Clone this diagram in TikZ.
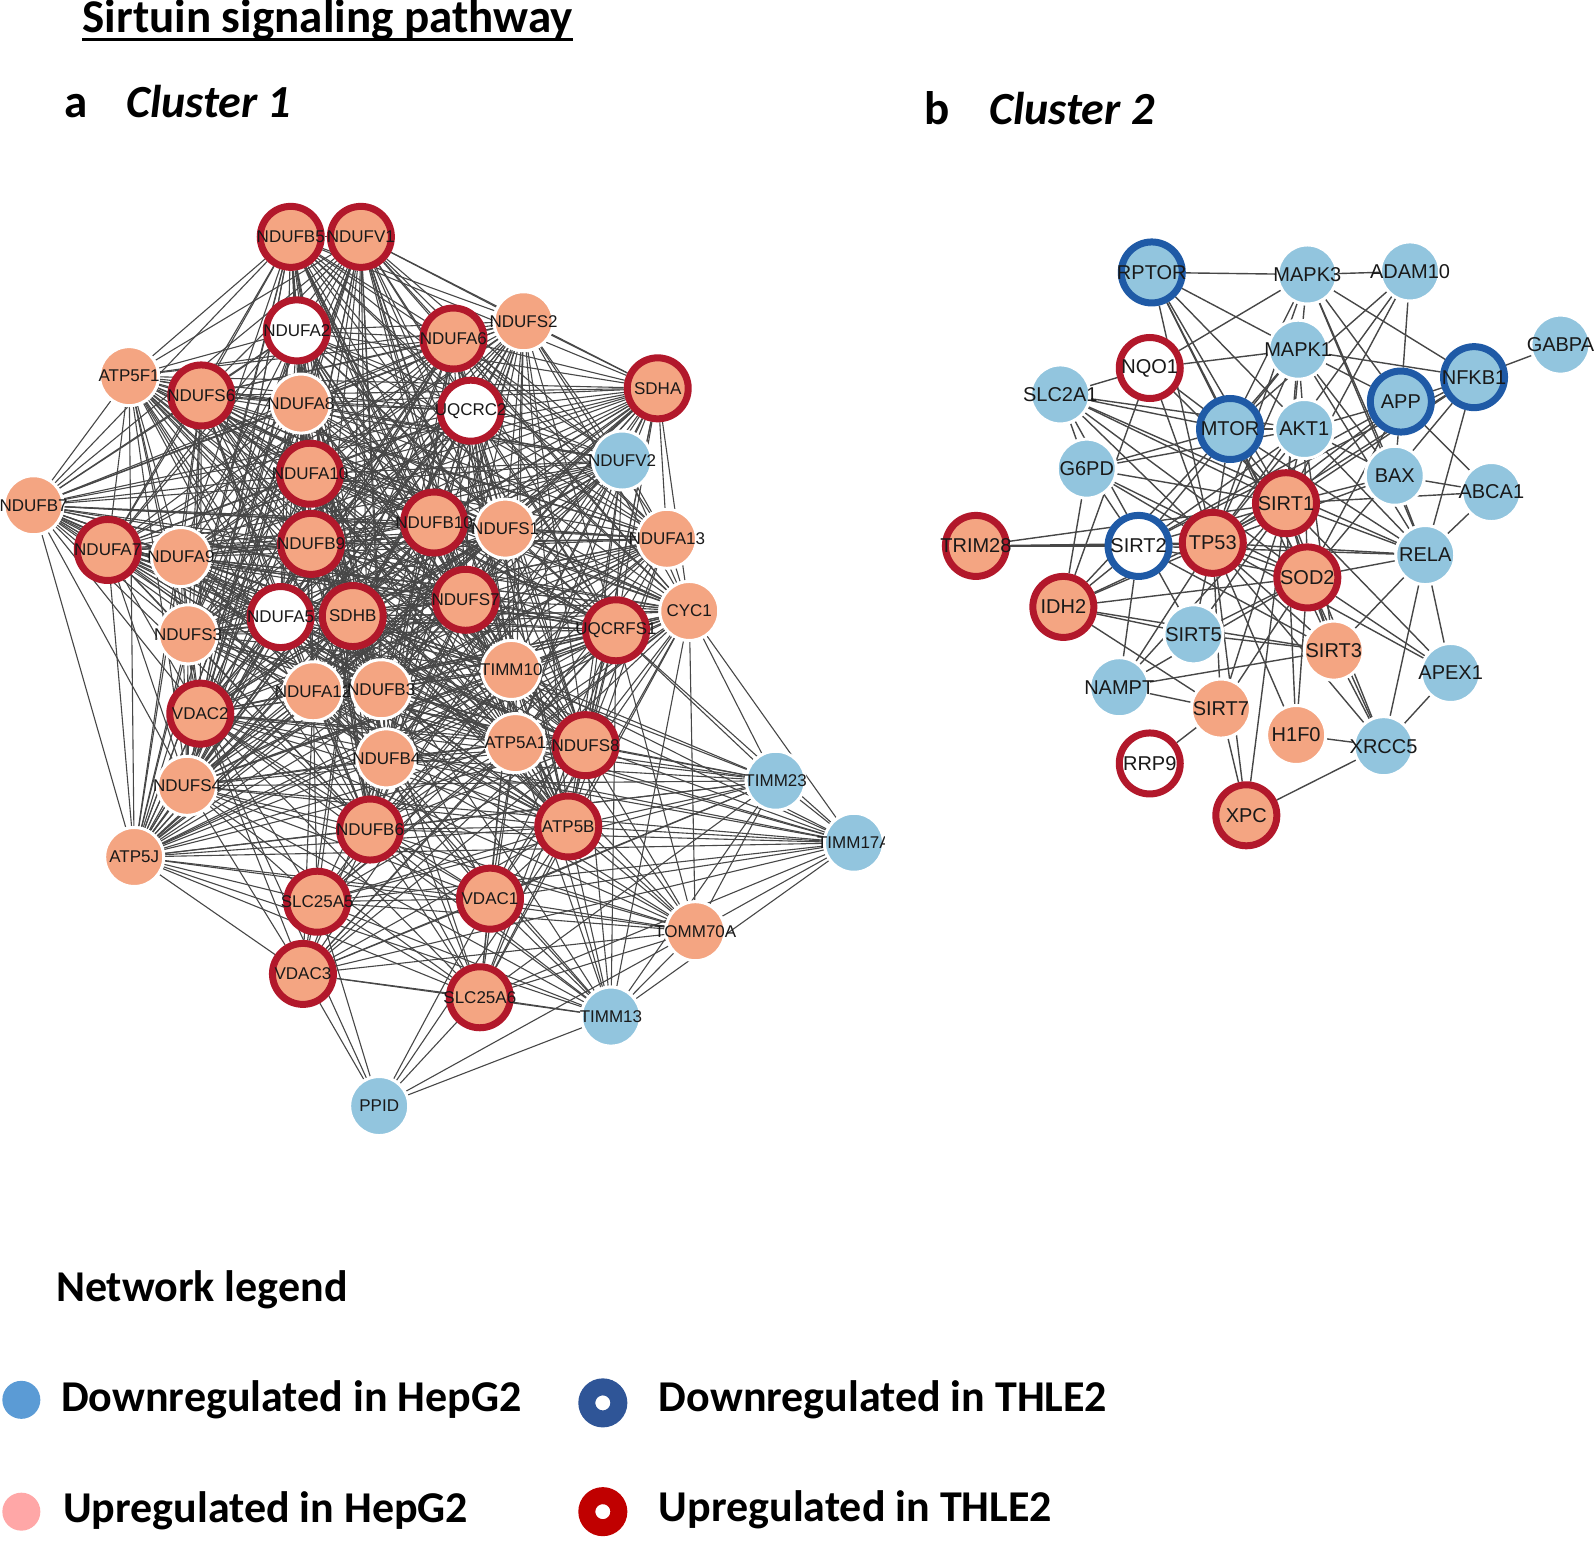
\documentclass[tikz,border=0pt]{standalone}
\usepackage{fontspec}
\setmainfont{Carlito}
\newfontfamily\genefont{Liberation Sans}
\usepackage{xcolor}
\usetikzlibrary{backgrounds}
\definecolor{salmon}{HTML}{F4A582}
\definecolor{skyblue}{HTML}{92C5DE}
\definecolor{ringred}{HTML}{B2182B}
\definecolor{ringblue}{HTML}{1F5AA6}
\definecolor{legblue}{HTML}{5B9BD5}
\definecolor{legdark}{HTML}{2F5597}
\definecolor{legpink}{HTML}{FFA7A7}
\definecolor{legred}{HTML}{C00000}
\newcommand{\lbl}[1]{\makebox[0pt][c]{#1}}
\tikzset{
  gene/.style={circle, inner sep=0pt, text=black!90},
  onegene/.style={gene, font=\genefont\fontsize{17}{17}\selectfont},
  twogene/.style={gene, font=\genefont\fontsize{20}{20}\selectfont},
  % plain nodes with a white halo, ring nodes with a thick coloured border
  plain/.style={draw=white, line width=3pt, minimum size=59pt, fill=#1},
  ring/.style={draw=#1, line width=7pt, minimum size=61pt},
  edge/.style={draw=black!72, line width=1.1pt},
  edgetwo/.style={draw=black!72, line width=1.4pt},
  heading/.style={font=\bfseries\fontsize{47}{50}\selectfont, anchor=base west, inner sep=0pt},
  legtext/.style={font=\bfseries\fontsize{44}{50}\selectfont, anchor=base west, inner sep=0pt},
}
\begin{document}
\begin{tikzpicture}[x=1.0166pt, y=-1.0166pt]
  \useasboundingbox (0,0) rectangle (1568,1517);

  % headings
  \node[heading] (title) at (81,32) {Sirtuin signaling pathway};
  \draw[line width=2.6pt] ([yshift=-7pt]title.base west) -- ([yshift=-7pt]title.base east);
  \node[heading] (pa) at (63,116) {a};
  \node[heading, font=\bfseries\itshape\fontsize{46}{50}\selectfont] (cl1) at (124,116) {Cluster 1};
  \node[heading] (pb) at (909,122) {b};
  \node[heading, font=\bfseries\itshape\fontsize{46}{50}\selectfont] (cl2) at (973,122) {Cluster 2};

  % cluster 1
  \begin{scope}
    \clip (0,150) rectangle (870,1140);
    \node[onegene, ring=ringred, fill=salmon] (NDUFB5) at (286,233) {\lbl{NDUFB5}};
    \node[onegene, ring=ringred, fill=salmon] (NDUFV1) at (355,233) {\lbl{NDUFV1}};
    \node[onegene, ring=ringred, fill=white] (NDUFA2) at (292,325) {\lbl{NDUFA2}};
    \node[onegene, ring=ringred, fill=salmon] (NDUFA6) at (446,333) {\lbl{NDUFA6}};
    \node[onegene, plain=salmon] (NDUFS2) at (515,316) {\lbl{NDUFS2}};
    \node[onegene, plain=salmon] (ATP5F1) at (127,370) {\lbl{ATP5F1}};
    \node[onegene, ring=ringred, fill=salmon] (NDUFS6) at (198,389) {\lbl{NDUFS6}};
    \node[onegene, plain=salmon] (NDUFA8) at (296,397) {\lbl{NDUFA8}};
    \node[onegene, ring=ringred, fill=white] (UQCRC2) at (463,404) {\lbl{UQCRC2}};
    \node[onegene, ring=ringred, fill=salmon] (SDHA) at (647,382) {\lbl{SDHA}};
    \node[onegene, plain=skyblue] (NDUFV2) at (612,453) {\lbl{NDUFV2}};
    \node[onegene, ring=ringred, fill=salmon] (NDUFA10) at (305,466) {\lbl{NDUFA10}};
    \node[onegene, plain=salmon] (NDUFB7) at (33,497) {\lbl{NDUFB7}};
    \node[onegene, ring=ringred, fill=salmon] (NDUFB10) at (427,514) {\lbl{NDUFB10}};
    \node[onegene, plain=salmon] (NDUFS1) at (497,520) {\lbl{NDUFS1}};
    \node[onegene, plain=salmon] (NDUFA13) at (656,530) {\lbl{NDUFA13}};
    \node[onegene, ring=ringred, fill=salmon] (NDUFA7) at (106,541) {\lbl{NDUFA7}};
    \node[onegene, plain=salmon] (NDUFA9) at (178,548) {\lbl{NDUFA9}};
    \node[onegene, ring=ringred, fill=salmon] (NDUFB9) at (306,535) {\lbl{NDUFB9}};
    \node[onegene, ring=ringred, fill=salmon] (NDUFS7) at (458,590) {\lbl{NDUFS7}};
    \node[onegene, plain=salmon] (CYC1) at (678,601) {\lbl{CYC1}};
    \node[onegene, plain=salmon] (NDUFS3) at (185,624) {\lbl{NDUFS3}};
    \node[onegene, ring=ringred, fill=white] (NDUFA5) at (276,607) {\lbl{NDUFA5}};
    \node[onegene, ring=ringred, fill=salmon] (SDHB) at (347,606) {\lbl{SDHB}};
    \node[onegene, ring=ringred, fill=salmon] (UQCRFS1) at (606,620) {\lbl{UQCRFS1}};
    \node[onegene, plain=salmon] (TIMM10) at (503,659) {\lbl{TIMM10}};
    \node[onegene, plain=salmon] (NDUFA12) at (308,680) {\lbl{NDUFA12}};
    \node[onegene, plain=salmon] (NDUFB3) at (375,678) {\lbl{NDUFB3}};
    \node[onegene, ring=ringred, fill=salmon] (VDAC2) at (197,702) {\lbl{VDAC2}};
    \node[onegene, plain=salmon] (ATP5A1) at (507,731) {\lbl{ATP5A1}};
    \node[onegene, ring=ringred, fill=salmon] (NDUFS8) at (576,733) {\lbl{NDUFS8}};
    \node[onegene, plain=salmon] (NDUFB4) at (380,746) {\lbl{NDUFB4}};
    \node[onegene, plain=salmon] (NDUFS4) at (184,773) {\lbl{NDUFS4}};
    \node[onegene, plain=skyblue] (TIMM23) at (763,768) {\lbl{TIMM23}};
    \node[onegene, ring=ringred, fill=salmon] (NDUFB6) at (364,816) {\lbl{NDUFB6}};
    \node[onegene, ring=ringred, fill=salmon] (ATP5B) at (559,813) {\lbl{ATP5B}};
    \node[onegene, plain=salmon] (ATP5J) at (132,843) {\lbl{ATP5J}};
    \node[onegene, plain=skyblue] (TIMM17A) at (840,829) {\lbl{TIMM17A}};
    \node[onegene, ring=ringred, fill=salmon] (SLC25A5) at (312,887) {\lbl{SLC25A5}};
    \node[onegene, ring=ringred, fill=salmon] (VDAC1) at (482,884) {\lbl{VDAC1}};
    \node[onegene, plain=salmon] (TOMM70A) at (684,916) {\lbl{TOMM70A}};
    \node[onegene, ring=ringred, fill=salmon] (VDAC3) at (298,958) {\lbl{VDAC3}};
    \node[onegene, ring=ringred, fill=salmon] (SLC25A6) at (472,981) {\lbl{SLC25A6}};
    \node[onegene, plain=skyblue] (TIMM13) at (601,1000) {\lbl{TIMM13}};
    \node[onegene, plain=skyblue] (PPID) at (373,1088) {\lbl{PPID}};
  \end{scope}

  % cluster 2
  \node[twogene, ring=ringblue, fill=skyblue] (RPTOR) at (1133,268) {\lbl{RPTOR}};
  \node[twogene, plain=skyblue] (MAPK3) at (1286,270) {\lbl{MAPK3}};
  \node[twogene, plain=skyblue] (ADAM10) at (1387,267) {\lbl{ADAM10}};
  \node[twogene, plain=skyblue] (GABPA) at (1535,339) {\lbl{GABPA}};
  \node[twogene, ring=ringred, fill=white] (NQO1) at (1131,362) {\lbl{NQO1}};
  \node[twogene, plain=skyblue] (MAPK1) at (1277,344) {\lbl{MAPK1}};
  \node[twogene, ring=ringblue, fill=skyblue] (NFKB1) at (1450,371) {\lbl{NFKB1}};
  \node[twogene, plain=skyblue] (SLC2A1) at (1043,388) {\lbl{SLC2A1}};
  \node[twogene, ring=ringblue, fill=skyblue] (APP) at (1378,395) {\lbl{APP}};
  \node[twogene, ring=ringblue, fill=skyblue] (MTOR) at (1210,422) {\lbl{MTOR}};
  \node[twogene, plain=skyblue] (AKT1) at (1283,422) {\lbl{AKT1}};
  \node[twogene, plain=skyblue] (G6PD) at (1069,461) {\lbl{G6PD}};
  \node[twogene, plain=skyblue] (BAX) at (1372,468) {\lbl{BAX}};
  \node[twogene, plain=skyblue] (ABCA1) at (1467,484) {\lbl{ABCA1}};
  \node[twogene, ring=ringred, fill=salmon] (SIRT1) at (1265,495) {\lbl{SIRT1}};
  \node[twogene, ring=ringred, fill=salmon] (TRIM28) at (960,537) {\lbl{TRIM28}};
  \node[twogene, ring=ringblue, fill=white] (SIRT2) at (1120,537) {\lbl{SIRT2}};
  \node[twogene, ring=ringred, fill=salmon] (TP53) at (1193,534) {\lbl{TP53}};
  \node[twogene, plain=skyblue] (RELA) at (1402,546) {\lbl{RELA}};
  \node[twogene, ring=ringred, fill=salmon] (SOD2) at (1286,568) {\lbl{SOD2}};
  \node[twogene, ring=ringred, fill=salmon] (IDH2) at (1046,597) {\lbl{IDH2}};
  \node[twogene, plain=skyblue] (SIRT5) at (1174,624) {\lbl{SIRT5}};
  \node[twogene, plain=salmon] (SIRT3) at (1312,640) {\lbl{SIRT3}};
  \node[twogene, plain=skyblue] (APEX1) at (1427,662) {\lbl{APEX1}};
  \node[twogene, plain=skyblue] (NAMPT) at (1101,676) {\lbl{NAMPT}};
  \node[twogene, plain=salmon] (SIRT7) at (1201,697) {\lbl{SIRT7}};
  \node[twogene, plain=salmon] (H1F0) at (1275,723) {\lbl{H1F0}};
  \node[twogene, plain=skyblue] (XRCC5) at (1361,734) {\lbl{XRCC5}};
  \node[twogene, ring=ringred, fill=white] (RRP9) at (1131,751) {\lbl{RRP9}};
  \node[twogene, ring=ringred, fill=salmon] (XPC) at (1226,802) {\lbl{XPC}};

  \begin{pgfonlayer}{background}
    % cluster 1: respiratory chain core
    \def\coreset{NDUFB5,NDUFV1,NDUFA2,NDUFA6,NDUFS2,ATP5F1,NDUFS6,NDUFA8,UQCRC2,SDHA,NDUFV2,NDUFA10,NDUFB7,NDUFB10,NDUFS1,NDUFA13,NDUFA7,NDUFA9,NDUFB9,NDUFS7,CYC1,NDUFS3,NDUFA5,SDHB,UQCRFS1,TIMM10,NDUFA12,NDUFB3,VDAC2,ATP5A1,NDUFS8,NDUFB4,NDUFS4,NDUFB6,ATP5B,ATP5J}
    \foreach \a [count=\i] in \coreset {
      \foreach \b [count=\j] in \coreset {
        \ifnum\j>\i \draw[edge] (\a) -- (\b); \fi
      }
    }
    % cluster 1: transport and import
    \def\portset{VDAC1,VDAC3,SLC25A5,SLC25A6,TIMM13,TIMM23,TIMM17A,TOMM70A}
    \def\linkset{VDAC2,ATP5B,ATP5A1,CYC1,UQCRFS1,NDUFS8,NDUFB6,ATP5J,TIMM10,NDUFB4,NDUFS4,SDHB,NDUFA12}
    \foreach \a [count=\i] in \portset {
      \foreach \b [count=\j] in \portset {
        \ifnum\j>\i \draw[edge] (\a) -- (\b); \fi
      }
      \foreach \b in \linkset {
        \draw[edge] (\a) -- (\b);
      }
    }
    \foreach \b in {VDAC3,SLC25A5,SLC25A6,VDAC1,TIMM13,TOMM70A,VDAC2,ATP5B}
      \draw[edge] (PPID) -- (\b);

    % cluster 2
    \foreach \a/\b in {RPTOR/MAPK3, MAPK3/ADAM10, RPTOR/MTOR, RPTOR/AKT1, RPTOR/SIRT1,
      RPTOR/TP53, RPTOR/MAPK1, RPTOR/SOD2, MAPK3/NQO1, MAPK3/MTOR, MAPK3/APP,
      MAPK3/NFKB1, MAPK3/RELA, MAPK3/TP53, MAPK3/SIRT1, MAPK3/BAX, ADAM10/APP,
      ADAM10/SIRT1, ADAM10/TP53, ADAM10/MTOR, GABPA/NFKB1, NQO1/SLC2A1, NQO1/MAPK1,
      NQO1/TP53, NQO1/MTOR, NQO1/SIRT1, NQO1/IDH2, MAPK1/NFKB1, MAPK1/APP, MAPK1/TP53,
      MAPK1/SIRT1, MAPK1/MTOR, MAPK1/RELA, MAPK1/BAX, MAPK1/SIRT2, MAPK1/AKT1,
      NFKB1/APP, NFKB1/RELA, NFKB1/SIRT1, NFKB1/TP53, NFKB1/SOD2, NFKB1/SIRT2,
      SLC2A1/MTOR, SLC2A1/AKT1, SLC2A1/TP53, SLC2A1/SIRT1, SLC2A1/SOD2, SLC2A1/G6PD,
      SLC2A1/RELA, SLC2A1/SIRT5, APP/AKT1, APP/TP53, APP/SIRT1, APP/BAX, APP/SIRT2,
      APP/SOD2, APP/ABCA1, MTOR/AKT1, MTOR/TP53, MTOR/SIRT1, MTOR/SOD2, MTOR/SIRT3,
      MTOR/G6PD, MTOR/RELA, MTOR/IDH2, AKT1/TP53, AKT1/SIRT1, AKT1/SOD2, AKT1/BAX,
      AKT1/RELA, AKT1/G6PD, AKT1/SIRT3, AKT1/SIRT2, G6PD/TP53, G6PD/SIRT2, G6PD/SIRT1,
      G6PD/IDH2, G6PD/SOD2, BAX/TP53, BAX/SIRT1, BAX/ABCA1, BAX/RELA, ABCA1/SIRT1,
      ABCA1/RELA, SIRT1/TP53, SIRT1/SOD2, SIRT1/SIRT2, SIRT1/RELA, SIRT1/IDH2,
      SIRT1/SIRT3, SIRT1/SIRT7, SIRT1/XRCC5, SIRT1/APEX1, SIRT1/H1F0, SIRT1/SIRT5,
      SIRT1/NAMPT, SIRT1/XPC, TRIM28/SIRT2, TRIM28/TP53, TRIM28/SIRT1, SIRT2/TP53,
      SIRT2/IDH2, SIRT2/SOD2, SIRT2/SIRT3, SIRT2/NAMPT, SIRT2/RELA, TP53/SOD2, TP53/RELA,
      TP53/IDH2, TP53/SIRT5, TP53/SIRT3, TP53/SIRT7, TP53/APEX1, TP53/XRCC5, TP53/H1F0,
      TP53/XPC, TP53/NAMPT, RELA/SOD2, RELA/APEX1, RELA/SIRT3, RELA/XRCC5, SOD2/IDH2,
      SOD2/SIRT5, SOD2/SIRT3, SOD2/APEX1, SOD2/XRCC5, SOD2/H1F0, SOD2/NAMPT, SOD2/SIRT7,
      IDH2/SIRT5, IDH2/SIRT3, IDH2/SIRT7, SIRT5/SIRT3, SIRT3/XRCC5, SIRT3/NAMPT,
      APEX1/XRCC5, NAMPT/SIRT7, SIRT7/RRP9, SIRT7/XPC, H1F0/XRCC5, XRCC5/XPC}
      \draw[edgetwo] (\a) -- (\b);
  \end{pgfonlayer}

  % legend
  \node[legtext] (legtitle) at (55,1280) {Network legend};
  \node[circle, fill=legblue, minimum size=38pt, inner sep=0pt] (kdownhep) at (21,1377) {};
  \node[legtext] (tdownhep) at (60,1388) {Downregulated in HepG2};
  \node[circle, draw=legdark, line width=17pt, minimum size=32pt, inner sep=0pt] (kdownthle) at (593,1380) {};
  \node[legtext] (tdownthle) at (648,1388) {Downregulated in THLE2};
  \node[circle, fill=legpink, minimum size=38pt, inner sep=0pt] (kuphep) at (21,1487) {};
  \node[legtext] (tuphep) at (62,1498) {Upregulated in HepG2};
  \node[circle, draw=legred, line width=17pt, minimum size=32pt, inner sep=0pt] (kupthle) at (593,1487) {};
  \node[legtext] (tupthle) at (648,1497) {Upregulated in THLE2};
\end{tikzpicture}
\end{document}
